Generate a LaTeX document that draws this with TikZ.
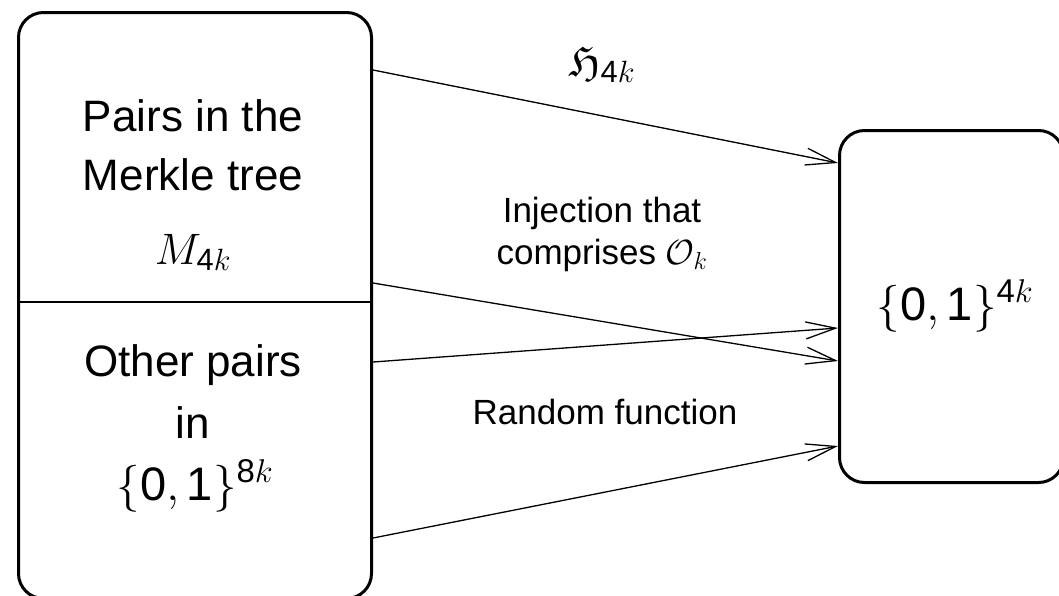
\RequirePackage{fix-cm}
\documentclass[tikz,border=0pt]{standalone}
\usepackage{amsmath,amssymb}
\usepackage{fontspec}
\setmainfont{Liberation Sans}
\usetikzlibrary{arrows.meta}
\DeclareFontFamily{U}{euf}{}
\DeclareFontShape{U}{euf}{m}{n}{<-> eufm10}{}
\newcommand{\dg}[1]{\text{#1}}
\begin{document}
\begin{tikzpicture}[x=1pt,y=-1pt,
  box/.style={draw, line width=3pt, rounded corners=25pt, inner sep=0pt},
  arr/.style={line width=1.3pt, -{Straight Barb[length=30pt,width=17pt,line width=1.3pt]}},
  big/.style={font=\fontsize{44}{52}\selectfont, anchor=base, inner sep=0pt},
  set/.style={font=\fontsize{47}{52}\selectfont, anchor=base, inner sep=0pt},
  small/.style={font=\fontsize{35}{42}\selectfont, anchor=base, inner sep=0pt}]
\useasboundingbox (0,0) rectangle (1059,595);
\node[box, minimum width=353pt, minimum height=586pt, anchor=north west] (L) at (17,11) {};
\node[box, minimum width=224pt, minimum height=352pt, anchor=north west] (R) at (838,129) {};
\draw[line width=1.5pt] (L.west |- 0,302) coordinate (d1) -- (L.east |- 0,302) coordinate (d2);
% left texts
\node[big] (p1) at (193,131) {Pairs in the};
\node[big] (p2) at (193,190) {Merkle tree};
\node[big] (m) at (193,264) {$M_{\dg{4}k}$};
\node[big] (o1) at (193,376) {Other pairs};
\node[big] (o2) at (193,438) {in};
\node[set] (o3) at (195,500) {$\{\dg{0},\dg{1}\}^{\dg{8}k}$};
% right text
\node[set] (r) at (955,320) {$\{\dg{0},\dg{1}\}^{\dg{4}k}$};
% labels
\node[big] (h) at (602,76) {$\mathfrak{H}_{\dg{4}k}$};
\node[small, align=center, anchor=center] (inj) at (602,234) {Injection that\\comprises $\mathcal{O}_k$};
\node[small] (rf) at (605,424) {Random function};
% arrows
\coordinate (s1) at (L.east |- 0,70);
\coordinate (s2) at (L.east |- 0,283);
\coordinate (s3) at (L.east |- 0,362);
\coordinate (s4) at (L.east |- 0,538);
\coordinate (e1) at (R.west |- 0,163);
\coordinate (e2) at (R.west |- 0,361);
\coordinate (e3) at (R.west |- 0,328);
\coordinate (e4) at (R.west |- 0,446);
\draw[arr] (s1) -- (e1);
\draw[arr] (s2) -- (e2);
\draw[arr] (s3) -- (e3);
\draw[arr] (s4) -- (e4);
\end{tikzpicture}
\end{document}
